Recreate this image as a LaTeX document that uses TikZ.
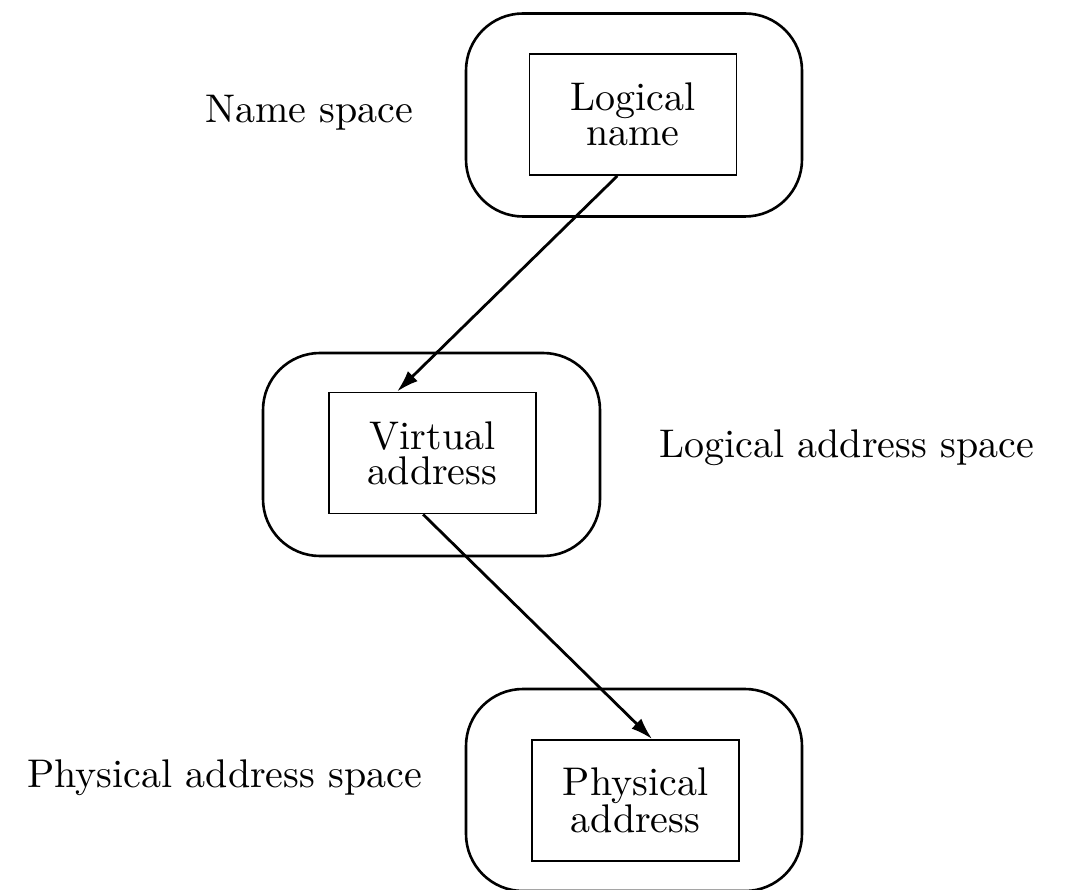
\documentclass[tikz,border=0pt]{standalone}
\usepackage{fontspec}
\newfontfamily\figfont{lmroman10-regular.otf}
\usetikzlibrary{arrows.meta,calc}
\begin{document}
\begin{tikzpicture}[x=1pt,y=-1pt,
  spacebox/.style={draw,line width=2.6pt,rounded corners=57pt},
  itembox/.style={draw,line width=1.8pt,minimum width=207pt,minimum height=121pt,inner sep=0pt,align=center,
    font=\figfont\fontsize{40}{35}\selectfont},
  label/.style={anchor=base west,inner sep=0pt,font=\figfont\fontsize{40}{48}\selectfont},
  mapping/.style={line width=2.8pt,-{Latex[length=22pt,width=14pt]}}]
\useasboundingbox (0,0) rectangle (1066,890);
% the three spaces
\draw[spacebox] (466,13.5) rectangle (802,216.5);
\draw[spacebox] (263,353) rectangle (600,556);
\draw[spacebox] (466,689) rectangle (802,891);
% the items held in each space
\node[itembox] (lname) at (633,114.5) {Logical\\name};
\node[itembox] (vaddr) at (432.5,453) {Virtual\\address};
\node[itembox] (paddr) at (635.5,800.5) {Physical\\address};
% space names
\node[label] (nslabel)  at (205,123) {Name space};
\node[label] (laslabel) at (659,458) {Logical address space};
\node[label] (paslabel) at (27,787)  {Physical address space};
% translations
\draw[mapping] ($(lname.south west)!0.425!(lname.south east)$) -- ($(vaddr.north west)!0.33!(vaddr.north east)$);
\draw[mapping] ($(vaddr.south west)!0.455!(vaddr.south east)$) -- ($(paddr.north west)!0.58!(paddr.north east)$);
\end{tikzpicture}
\end{document}
